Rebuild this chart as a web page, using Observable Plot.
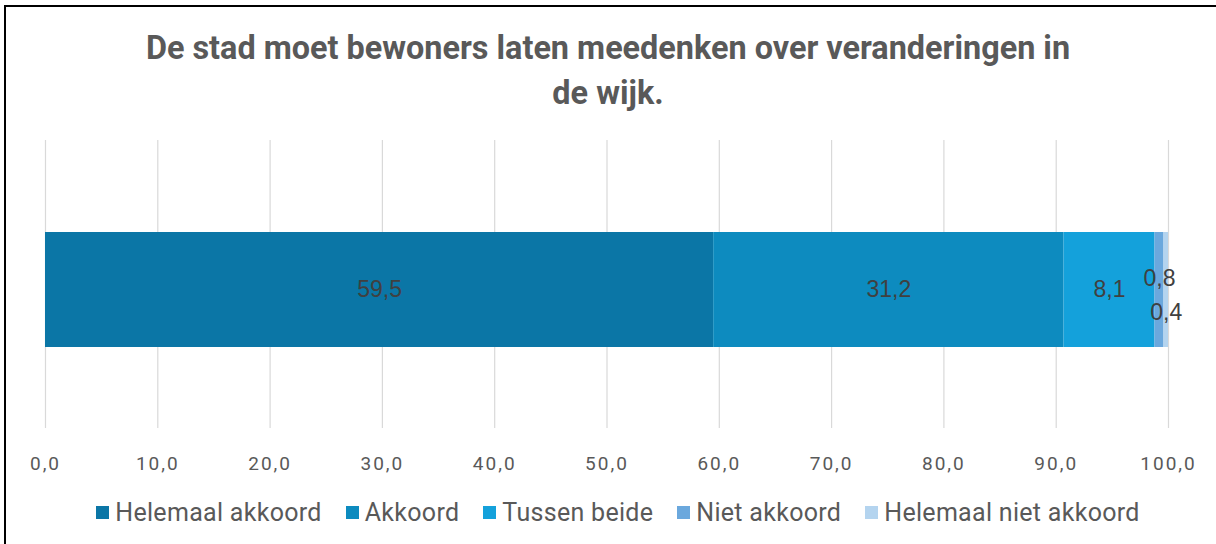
<!DOCTYPE html>
<html>
<head>
<meta charset="utf-8">
<script src="https://cdn.jsdelivr.net/npm/d3@7"></script>
<script src="https://cdn.jsdelivr.net/npm/@observablehq/plot@0.6"></script>
<style>
  html, body { margin: 0; padding: 0; background: #fff; }
  #wrap { position: relative; width: 1216px; height: 544px; overflow: hidden; background: #fff; }
  #borderTop { position: absolute; z-index: 5; left: 4px; top: 5px; width: 1212px; height: 2px; background: #000; }
  #borderLeft { position: absolute; z-index: 5; left: 4px; top: 5px; width: 2px; height: 539px; background: #000; }
  #title { position: absolute; left: 0; top: 26px; width: 1216px; text-align: center;
    font-family: Roboto, "Open Sans", sans-serif; font-weight: 700; font-size: 32.4px; line-height: 45px; color: #595959; }
  #chart { position: absolute; left: 0; top: 130px; }
  #chart g[aria-label="x-axis tick label"] text { letter-spacing: 2px; }
  #legend { position: absolute; left: 0; top: 498px; width: 1236px; display: flex; justify-content: center; gap: 24px;
    font-family: Roboto, sans-serif; font-size: 25px; letter-spacing: 0.3px; color: #595959; }
  .item { display: flex; align-items: center; gap: 6px; }
  .sw { width: 13px; height: 13px; display: inline-block; }
</style>
</head>
<body>
<div id="wrap">
  <div id="borderTop"></div>
  <div id="borderLeft"></div>
  <div id="title"></div>
  <div id="chart"></div>
  <div id="legend"></div>
</div>
<script>
const titleLines = ["De stad moet bewoners laten meedenken over veranderingen in", "de wijk."];
const categories = ["Helemaal akkoord", "Akkoord", "Tussen beide", "Niet akkoord", "Helemaal niet akkoord"];
const values = [59.5, 31.2, 8.1, 0.8, 0.4];
const colors = ["#0b76a6", "#0d8bbf", "#14a1db", "#6ba8dd", "#b4d4ef"];
const xTicks = [0, 10, 20, 30, 40, 50, 60, 70, 80, 90, 100];
const rowKey = "q";

const fmt = v => v.toFixed(1).replace(".", ",");
const data = categories.map((c, i) => ({ cat: c, value: values[i], row: rowKey }));

document.getElementById("title").innerHTML = titleLines.join("<br>");

const stackOpts = (extra) => Plot.stackX({ x: "value", y: "row", order: null, ...extra });
const labelFont = "Liberation Sans, Arial, sans-serif";

const plot = Plot.plot({
  width: 1216,
  height: 360,
  marginLeft: 45,
  marginRight: 48,
  marginTop: 10,
  marginBottom: 62,
  x: { domain: [0, 100], ticks: xTicks, tickFormat: fmt, label: null },
  y: { domain: [rowKey], axis: null, paddingInner: 0.2, paddingOuter: 0.6, align: 0.53 },
  color: { domain: categories, range: colors },
  style: { fontFamily: "Roboto, sans-serif", background: "transparent", overflow: "visible" },
  marks: [
    Plot.gridX(xTicks, { stroke: "#d9d9d9", strokeOpacity: 1, strokeWidth: 1.2 }),
    Plot.axisX(xTicks, { tickSize: 0, tickPadding: 28, tickFormat: fmt, fontSize: 19, fill: "#595959", stroke: null, label: null }),
    Plot.barX(data, stackOpts({ fill: "cat" })),
    Plot.text(data, stackOpts({ text: d => d.value >= 1 ? fmt(d.value) : "", fontSize: 23, fill: "#404040", fontFamily: labelFont })),
    Plot.text(data, stackOpts({ text: d => d.cat === "Niet akkoord" ? fmt(d.value) : "", dy: -11, fontSize: 23, fill: "#404040", fontFamily: labelFont })),
    Plot.text(data, stackOpts({ text: d => d.cat === "Helemaal niet akkoord" ? fmt(d.value) : "", dy: 23, fontSize: 23, fill: "#404040", fontFamily: labelFont }))
  ]
});
document.getElementById("chart").appendChild(plot);

const legend = document.getElementById("legend");
categories.forEach((c, i) => {
  const it = document.createElement("div");
  it.className = "item";
  it.innerHTML = `<span class="sw" style="background:${colors[i]}"></span><span>${c}</span>`;
  legend.appendChild(it);
});
</script>
</body>
</html>
